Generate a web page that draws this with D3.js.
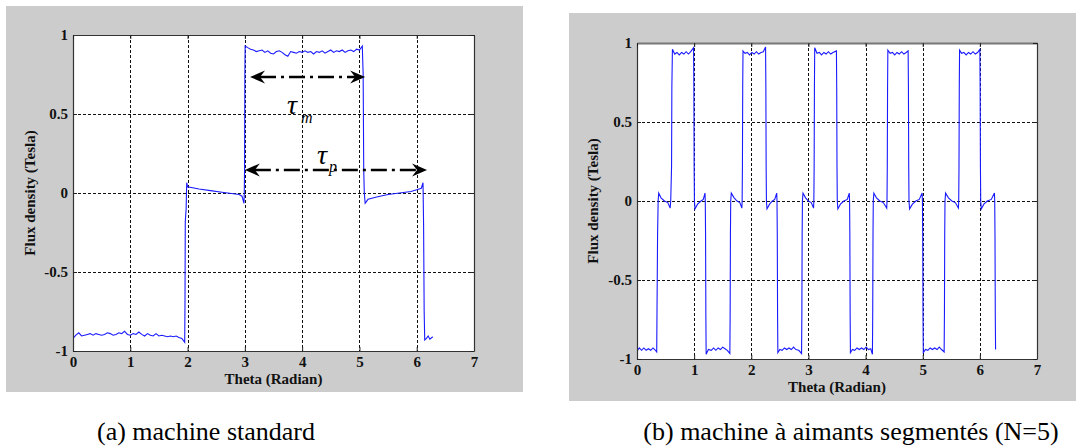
<!DOCTYPE html>
<html><head><meta charset="utf-8">
<script src="https://cdn.jsdelivr.net/npm/d3@7"></script>
<style>body{margin:0;background:#fff}svg{display:block}
svg text{font-family:"Liberation Serif","Times New Roman",Times,"DejaVu Serif",serif !important;}
</style>
</head><body><svg id="c" width="1076" height="447"></svg>
<script>
// ---------- data ----------
const xTicks = [0, 1, 2, 3, 4, 5, 6, 7];
const yTicks = [-1, -0.5, 0, 0.5, 1];
const yTickLabels = ["-1", "-0.5", "0", "0.5", "1"];
const xLabel = "Theta (Radian)";
const yLabel = "Flux density (Tesla)";
const captions = ["(a) machine standard", "(b) machine à aimants segmentés (N=5)"];

// (a) standard machine: [theta, B]
const fluxStandard = [
 [0.00,-0.92],[0.05,-0.90],[0.10,-0.885],[0.15,-0.905],[0.20,-0.90],[0.25,-0.895],[0.30,-0.89],[0.35,-0.90],
 [0.40,-0.89],[0.45,-0.895],[0.50,-0.90],[0.55,-0.895],[0.60,-0.885],[0.65,-0.89],[0.70,-0.90],[0.75,-0.895],
 [0.80,-0.885],[0.85,-0.89],[0.90,-0.875],[0.95,-0.895],[1.00,-0.90],[1.05,-0.89],[1.10,-0.895],[1.15,-0.88],
 [1.20,-0.895],[1.25,-0.905],[1.30,-0.89],[1.35,-0.90],[1.40,-0.905],[1.45,-0.89],[1.50,-0.905],[1.55,-0.90],
 [1.60,-0.905],[1.65,-0.91],[1.70,-0.905],[1.75,-0.91],[1.80,-0.905],[1.85,-0.915],[1.90,-0.92],[1.95,-0.945],
 [1.955,-0.70],[1.96,-0.18],[1.975,-0.10],[1.985,0.065],
 [2.00,0.04],[2.20,0.025],[2.40,0.015],[2.60,0.005],[2.80,-0.005],[2.90,-0.01],[2.95,-0.02],[2.985,-0.065],
 [2.99,0.0],[2.995,0.15],[3.00,0.75],[3.005,0.93],
 [3.05,0.92],[3.10,0.91],[3.15,0.905],[3.20,0.895],[3.25,0.90],[3.30,0.905],[3.35,0.89],[3.40,0.90],
 [3.45,0.885],[3.50,0.88],[3.55,0.895],[3.60,0.90],[3.65,0.89],[3.70,0.875],[3.75,0.865],[3.80,0.895],
 [3.85,0.89],[3.90,0.885],[3.95,0.895],[4.00,0.89],[4.05,0.90],[4.10,0.89],[4.15,0.895],[4.20,0.88],
 [4.25,0.895],[4.30,0.89],[4.35,0.90],[4.40,0.885],[4.45,0.895],[4.50,0.905],[4.55,0.89],[4.60,0.90],
 [4.65,0.895],[4.70,0.905],[4.75,0.89],[4.80,0.90],[4.85,0.905],[4.90,0.895],[4.95,0.91],[5.00,0.905],[5.05,0.93],
 [5.065,0.75],[5.075,0.15],[5.085,0.0],[5.10,-0.065],
 [5.15,-0.04],[5.30,-0.025],[5.50,-0.01],[5.70,0.0],[5.90,0.01],[6.00,0.02],[6.08,0.03],[6.11,0.065],
 [6.12,-0.20],[6.13,-0.75],[6.14,-0.93],
 [6.17,-0.92],[6.20,-0.905],[6.23,-0.925],[6.28,-0.91]
];

// (b) segmented magnets N=5: [theta, B]
const fluxSegmented = [
 [0.00,-0.95],[0.04,-0.93],[0.08,-0.945],[0.12,-0.93],[0.16,-0.945],[0.20,-0.935],[0.24,-0.945],[0.28,-0.93],[0.31,-0.94],[0.345,-0.955],
 [0.35,-0.70],[0.36,-0.22],[0.37,0.0],[0.38,0.05],
 [0.42,0.02],[0.48,0.0],[0.54,-0.01],[0.58,-0.045],
 [0.59,0.0],[0.605,0.22],[0.61,0.72],[0.62,0.96],
 [0.66,0.93],[0.70,0.94],[0.74,0.925],[0.78,0.94],[0.82,0.93],[0.86,0.945],[0.90,0.93],[0.94,0.945],[0.99,0.97],
 [0.995,0.72],[1.00,0.22],[1.005,0.0],[1.015,-0.05],
 [1.06,-0.02],[1.12,0.0],[1.16,0.01],[1.19,0.05],
 [1.195,0.0],[1.20,-0.22],[1.205,-0.72],[1.21,-0.97],
 [1.25,-0.94],[1.30,-0.945],[1.34,-0.93],[1.38,-0.945],[1.42,-0.93],[1.46,-0.94],[1.50,-0.925],[1.54,-0.935],[1.58,-0.945],[1.625,-0.965],
 [1.63,-0.72],[1.635,-0.22],[1.64,0.0],[1.65,0.05],
 [1.70,0.02],[1.75,0.0],[1.80,-0.01],[1.835,-0.045],
 [1.84,0.0],[1.845,0.22],[1.85,0.72],[1.855,0.95],
 [1.89,0.935],[1.93,0.94],[1.97,0.925],[2.01,0.94],[2.05,0.93],[2.09,0.945],[2.13,0.93],[2.17,0.94],[2.21,0.945],[2.25,0.975],
 [2.255,0.72],[2.26,0.22],[2.265,0.0],[2.275,-0.05],
 [2.32,-0.02],[2.37,0.0],[2.41,0.01],[2.445,0.05],
 [2.45,0.0],[2.455,-0.22],[2.46,-0.72],[2.465,-0.96],
 [2.50,-0.94],[2.54,-0.945],[2.58,-0.93],[2.62,-0.94],[2.66,-0.93],[2.70,-0.94],[2.74,-0.925],[2.78,-0.94],[2.83,-0.945],[2.88,-0.965],
 [2.885,-0.72],[2.89,-0.22],[2.895,0.0],[2.905,0.05],
 [2.95,0.02],[3.00,0.0],[3.05,-0.01],[3.09,-0.045],
 [3.095,0.0],[3.10,0.22],[3.105,0.72],[3.11,0.97],
 [3.15,0.935],[3.19,0.94],[3.23,0.925],[3.27,0.94],[3.31,0.93],[3.35,0.945],[3.39,0.93],[3.43,0.94],[3.49,0.95],
 [3.495,0.72],[3.50,0.22],[3.505,0.0],[3.515,-0.05],
 [3.56,-0.02],[3.62,0.0],[3.68,0.01],[3.715,0.05],
 [3.72,0.0],[3.725,-0.22],[3.73,-0.72],[3.735,-0.96],
 [3.77,-0.94],[3.81,-0.945],[3.85,-0.93],[3.89,-0.94],[3.93,-0.93],[3.97,-0.94],[4.01,-0.925],[4.05,-0.94],[4.09,-0.935],[4.12,-0.97],
 [4.125,-0.72],[4.13,-0.22],[4.135,0.0],[4.145,0.05],
 [4.19,0.02],[4.25,0.0],[4.31,-0.01],[4.37,-0.045],
 [4.375,0.0],[4.38,0.22],[4.385,0.72],[4.39,0.955],
 [4.43,0.935],[4.47,0.94],[4.51,0.925],[4.55,0.94],[4.59,0.93],[4.63,0.945],[4.67,0.93],[4.71,0.94],[4.745,0.95],
 [4.75,0.72],[4.755,0.22],[4.76,0.0],[4.77,-0.05],
 [4.82,-0.02],[4.88,0.0],[4.94,0.01],[4.99,0.05],
 [4.995,0.0],[5.00,-0.22],[5.005,-0.72],[5.01,-0.96],
 [5.05,-0.94],[5.09,-0.945],[5.13,-0.93],[5.17,-0.94],[5.21,-0.93],[5.25,-0.94],[5.29,-0.925],[5.33,-0.94],[5.375,-0.955],
 [5.38,-0.72],[5.385,-0.22],[5.39,0.0],[5.40,0.05],
 [5.45,0.02],[5.51,0.0],[5.57,-0.01],[5.625,-0.045],
 [5.63,0.0],[5.635,0.22],[5.64,0.72],[5.645,0.955],
 [5.68,0.935],[5.72,0.94],[5.76,0.925],[5.80,0.94],[5.84,0.93],[5.88,0.945],[5.92,0.93],[5.96,0.94],[6.00,0.96],
 [6.005,0.72],[6.01,0.22],[6.015,0.0],[6.025,-0.05],
 [6.07,-0.02],[6.13,0.0],[6.20,0.01],[6.255,0.05],
 [6.26,0.0],[6.265,-0.22],[6.27,-0.72],[6.275,-0.94]
];

// annotations on panel (a): arrows with tau labels (theta from/to, B level)
const tauLabels = ["m", "p"];
const tauFrom = [3.09, 3.00];
const tauTo = [5.10, 6.18];
const tauLevel = [0.734, 0.146];

// ---------- drawing ----------
const svg = d3.select("#c");
svg.append("rect").attr("width",1076).attr("height",447).attr("fill","#fff");

const panels = [
  {bg:[6,6,517,386], plot:[73,35,474,351], data:fluxStandard, xlab:384, ylab:35, cap:[206,440]},
  {bg:[569,13,507,388], plot:[637,43,1037,359], data:fluxSegmented, xlab:392, ylab:598, cap:[851,440]}
];

panels.forEach((p, i) => {
  const [bx,by,bw,bh] = p.bg;
  svg.append("rect").attr("x",bx).attr("y",by).attr("width",bw).attr("height",bh).attr("fill","#cccccc");
  const [L,T,R,B] = p.plot;
  svg.append("rect").attr("x",L).attr("y",T).attr("width",R-L).attr("height",B-T).attr("fill","#fff");

  const x = d3.scaleLinear().domain([0,7]).range([L,R]);
  const y = d3.scaleLinear().domain([-1,1]).range([B,T]);

  const g = svg.append("g");
  // grid
  g.selectAll(".gx").data(xTicks.filter(t=>t>0&&t<7)).join("line")
    .attr("x1",d=>Math.round(x(d))+0.5).attr("x2",d=>Math.round(x(d))+0.5)
    .attr("y1",T).attr("y2",B)
    .attr("stroke","#111").attr("stroke-width",1).attr("stroke-dasharray","3,2");
  g.selectAll(".gy").data(yTicks.filter(t=>t>-1&&t<1)).join("line")
    .attr("y1",d=>Math.round(y(d))+0.5).attr("y2",d=>Math.round(y(d))+0.5)
    .attr("x1",L).attr("x2",R)
    .attr("stroke","#111").attr("stroke-width",1).attr("stroke-dasharray","3,2");

  // curve
  const clipId = "clip"+i;
  svg.append("clipPath").attr("id",clipId).append("rect")
    .attr("x",L).attr("y",T-2).attr("width",R-L).attr("height",B-T+4);
  svg.append("path").datum(p.data)
    .attr("clip-path","url(#"+clipId+")")
    .attr("fill","none").attr("stroke","#1a1aff").attr("stroke-width",1.1)
    .attr("d", d3.line().x(d=>x(d[0])).y(d=>y(d[1])));

  // axes
  const ax = svg.append("g").attr("transform",`translate(0,${B})`)
    .call(d3.axisBottom(x).tickValues(xTicks).tickFormat(d3.format("d")).tickSizeInner(-4).tickSizeOuter(0).tickPadding(5));
  const ay = svg.append("g").attr("transform",`translate(${L},0)`)
    .call(d3.axisLeft(y).tickValues(yTicks).tickFormat((d,k)=>yTickLabels[k]).tickSizeInner(-4).tickSizeOuter(0).tickPadding(5));
  const at = svg.append("g").attr("transform",`translate(0,${T})`)
    .call(d3.axisTop(x).tickValues(xTicks).tickFormat("").tickSizeInner(-4).tickSizeOuter(0));
  const ar = svg.append("g").attr("transform",`translate(${R},0)`)
    .call(d3.axisRight(y).tickValues(yTicks).tickFormat("").tickSizeInner(-4).tickSizeOuter(0));
  [ax,ay,at,ar].forEach(a=>{
    a.attr("font-family",null);
    a.selectAll("path.domain").attr("stroke", a===at ? (i===1?"#777":"#333") : "#333").attr("stroke-width", a===at && i===1 ? 2 : 1.2);
    a.selectAll(".tick line").attr("stroke","#222");
    a.selectAll("text").attr("font-weight","bold").attr("font-size",15).attr("fill","#111");
  });

  // axis labels
  svg.append("text").attr("x",(L+R)/2).attr("y",p.xlab).attr("text-anchor","middle")
    .attr("font-weight","bold").attr("font-size",15).attr("fill","#111").text(xLabel);
  svg.append("text").attr("transform",`translate(${p.ylab},${(T+B)/2}) rotate(-90)`).attr("text-anchor","middle")
    .attr("font-weight","bold").attr("font-size",15).attr("fill","#111").text(yLabel);

  // caption
  svg.append("text").attr("x",p.cap[0]).attr("y",p.cap[1]).attr("text-anchor","middle")
    .attr("font-size",26).attr("fill","#000").text(captions[i]);

  if (i === 0) {
    tauLabels.forEach((sub,k)=>{
      const x1 = x(tauFrom[k]), x2 = x(tauTo[k]), yy = y(tauLevel[k]);
      const hl = 15, hw = 6.5, notch = 10;
      svg.append("line").attr("x1",x1+notch).attr("x2",x2-notch).attr("y1",yy).attr("y2",yy)
        .attr("stroke","#000").attr("stroke-width",2.5).attr("stroke-dasharray","16,5,3,5");
      svg.append("path").attr("fill","#000")
        .attr("d",`M${x1},${yy} L${x1+hl},${yy-hw} L${x1+notch},${yy} L${x1+hl},${yy+hw} Z`);
      svg.append("path").attr("fill","#000")
        .attr("d",`M${x2},${yy} L${x2-hl},${yy-hw} L${x2-notch},${yy} L${x2-hl},${yy+hw} Z`);
    });
    // tau labels: main symbol and subscript as separate texts
    const tauPos = [[287,114],[317,164]];
    const subPos = [[301,123],[329,172]];
    tauLabels.forEach((sub,k)=>{
      svg.append("text").attr("x",tauPos[k][0]).attr("y",tauPos[k][1])
        .attr("font-style","italic").attr("font-size",28).attr("fill","#000").text("τ");
      svg.append("text").attr("x",subPos[k][0]).attr("y",subPos[k][1])
        .attr("font-style","italic").attr("font-size",16).attr("fill","#000").text(sub);
    });
  }
});
</script>
</body></html>
